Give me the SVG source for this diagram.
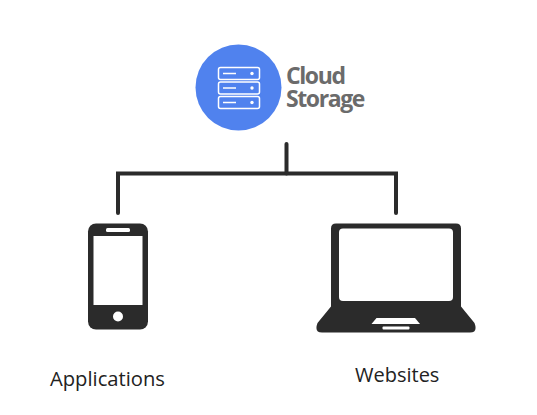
<svg xmlns="http://www.w3.org/2000/svg" width="537" height="415" viewBox="0 0 537 415">
<style>
.dark{fill:#2b2b2b}
.hole{fill:#fff}
.conn{fill:none;stroke:#2b2b2b;stroke-width:4;stroke-linecap:round;stroke-linejoin:miter}
.srv{fill:none;stroke:#fff;stroke-width:1.5}
.srvl{stroke:#fff;stroke-width:1.4;fill:none}
.brand{font-family:"Open Sans",sans-serif;font-weight:700;font-size:23px;fill:#6b6b6b;letter-spacing:-1.4px}
.lbl{font-family:"Open Sans",sans-serif;font-size:20.2px;fill:#222}
</style>
<rect width="537" height="415" fill="#fff"/>
<g id="connectors">
<path class="conn" d="M118 213V173.500H396V213"/>
<path class="conn" d="M286.500 144V173.500"/>
</g>
<g id="cloud-storage">
<circle cx="238.500" cy="87.500" r="43" fill="#5082ee"/>
<rect class="srv" x="218.500" y="67.500" width="41" height="12" rx="2"/>
<rect class="srv" x="218.500" y="82" width="41" height="12" rx="2"/>
<rect class="srv" x="218.500" y="96.500" width="41" height="12" rx="2"/>
<path class="srvl" d="M223 73.500H236M223 88H236M223 102.500H236"/>
<circle cx="252" cy="73.500" r="1.700" fill="#fff"/>
<circle cx="252" cy="88" r="1.700" fill="#fff"/>
<circle cx="252" cy="102.500" r="1.700" fill="#fff"/>
<text class="brand" x="286" y="83.500">Cloud</text>
<text class="brand" x="286" y="106.500">Storage</text>
</g>
<g id="applications">
<rect class="dark" x="88" y="223.500" width="60" height="106" rx="8"/>
<rect class="hole" x="93.500" y="236" width="49" height="69"/>
<rect class="hole" x="106" y="228" width="24" height="4" rx="1.500"/>
<circle class="hole" cx="118" cy="316.500" r="5"/>
<text class="lbl" x="50" y="386">Applications</text>
</g>
<g id="websites">
<path class="dark" d="M336 223.500H456Q461 223.500 461 228.500V306.500L474.500 323Q478 332.500 470 332.500H322Q314 332.500 317.500 323L331 306.500V228.500Q331 223.500 336 223.500Z"/>
<rect class="hole" x="339" y="228.500" width="114" height="72.500" rx="4"/>
<path class="hole" d="M376.500 318H415L420 324H371.500Z"/>
<rect class="hole" x="382.500" y="326.500" width="27" height="3" rx="1"/>
<text class="lbl" x="355" y="382" style="font-size:20px">Websites</text>
</g>
</svg>
